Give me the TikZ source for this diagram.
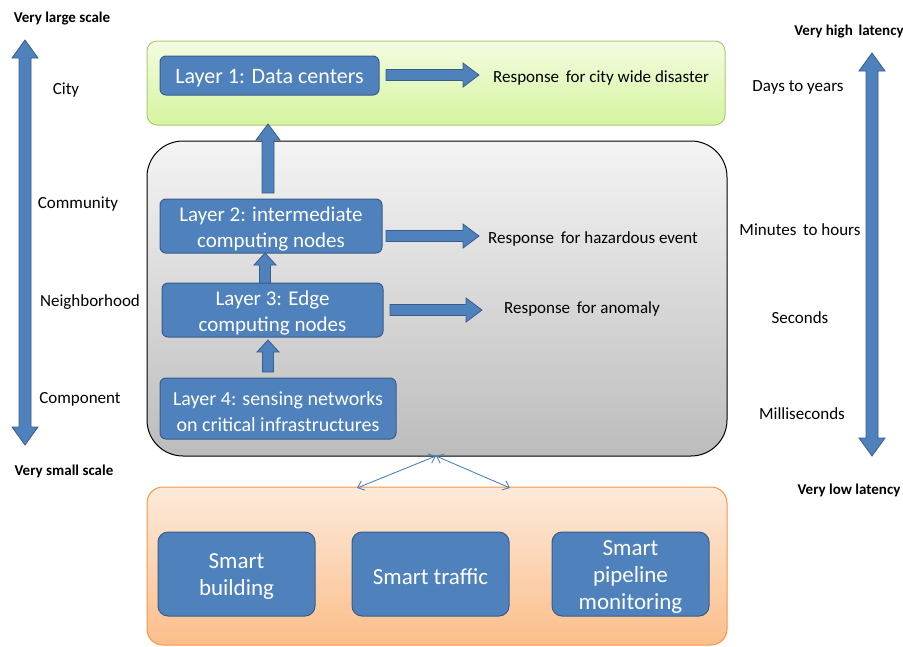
\documentclass[tikz,border=0pt]{standalone}
\usepackage{fontspec}
\setmainfont{Carlito}
\usetikzlibrary{calc,arrows.meta}
\definecolor{blu}{HTML}{4F81BD}
\definecolor{bdr}{HTML}{385D8A}
\definecolor{gtop}{HTML}{F4FCE0}
\definecolor{gbot}{HTML}{D6F4A0}
\definecolor{gbrd}{HTML}{A9CB74}
\definecolor{ytop}{HTML}{F4F4F4}
\definecolor{ybot}{HTML}{BCBCBC}
\definecolor{otop}{HTML}{FDEADB}
\definecolor{obot}{HTML}{FBBE8A}
\definecolor{obrd}{HTML}{F79646}
\tikzset{
  boxtext/.style={text=white, align=center, inner sep=0pt},
  layerbox/.style={draw=bdr, fill=blu, line width=1pt, rounded corners=6pt, inner sep=0pt},
  smartbox/.style={draw=bdr, fill=blu, line width=1pt, rounded corners=10pt, inner sep=0pt,
    minimum width=157pt, minimum height=84pt},
  lbl/.style={font=\fontsize{17}{19}\selectfont, inner sep=0pt},
  blbl/.style={font=\bfseries\fontsize{15}{17}\selectfont, inner sep=0pt},
  blk/.style={draw=bdr, fill=blu, line width=0.8pt, line join=miter},
  thin/.style={draw=blu, line width=0.9pt, {Straight Barb[length=6pt,width=10pt]}-{Straight Barb[length=6pt,width=10pt]}}
}
% horizontal block arrow: #1 start, #2 tip, #3 half shaft, #4 half head, #5 head length
\newcommand\HBlk[5]{\draw[blk] let \p1=(#1), \p2=(#2) in
  (\x1,\y1-#3) -- (\x2-#5,\y1-#3) -- (\x2-#5,\y1-#4) -- (\x2,\y1) -- (\x2-#5,\y1+#4)
  -- (\x2-#5,\y1+#3) -- (\x1,\y1+#3) -- cycle;}
% vertical block arrow upward: #1 bottom start, #2 tip
\newcommand\VBlk[5]{\draw[blk] let \p1=(#1), \p2=(#2) in
  (\x1-#3,\y1) -- (\x1-#3,\y2-#5) -- (\x1-#4,\y2-#5) -- (\x1,\y2) -- (\x1+#4,\y2-#5)
  -- (\x1+#3,\y2-#5) -- (\x1+#3,\y1) -- cycle;}
% double vertical block arrow: #1 top tip, #2 bottom tip
\newcommand\DBlk[5]{\draw[blk] let \p1=(#1), \p2=(#2) in
  (\x1,\y1) -- (\x1+#4,\y1-#5) -- (\x1+#3,\y1-#5) -- (\x1+#3,\y2+#5) -- (\x1+#4,\y2+#5)
  -- (\x1,\y2) -- (\x1-#4,\y2+#5) -- (\x1-#3,\y2+#5) -- (\x1-#3,\y1-#5) -- (\x1-#4,\y1-#5) -- cycle;}
\begin{document}
\begin{tikzpicture}[x=1pt,y=-1pt]
\useasboundingbox (0,0) rectangle (903,646);
% containers
\path[draw=gbrd, line width=1pt, top color=gtop, bottom color=gbot, rounded corners=10pt]
  (147,41) rectangle (725,125);
\path[draw=black, line width=1pt, top color=ytop, bottom color=ybot, rounded corners=36pt]
  (147,141) rectangle (727,456);
\path[draw=obrd, line width=1pt, top color=otop, bottom color=obot, rounded corners=16pt]
  (147,487) rectangle (727,645);
\coordinate (gbot) at (268,124);
\coordinate (ytopc) at (436,456);
\coordinate (oA) at (357,488);
\coordinate (oB) at (510,488);
% layers
\node[layerbox, minimum width=219pt, minimum height=39pt] (L1) at (269.5,75.5) {};
\node[layerbox, minimum width=222pt, minimum height=54pt] (L2) at (271,226) {};
\node[layerbox, minimum width=221pt, minimum height=54pt] (L3) at (272.5,310) {};
\node[layerbox, minimum width=236pt, minimum height=61pt] (L4) at (278,408.5) {};
\node[boxtext, font=\fontsize{22}{26}\selectfont] (L1t) at ([yshift=-3pt]L1.center) {Layer 1: Data centers};
\node[boxtext, font=\fontsize{21}{26}\selectfont] (L2t) at ([yshift=-3pt]L2.center) {Layer 2: intermediate\\computing nodes};
\node[boxtext, font=\fontsize{21}{26}\selectfont] (L3t) at ([yshift=-3pt]L3.center) {Layer 3: Edge\\computing nodes};
\node[boxtext, font=\fontsize{20}{26}\selectfont] (L4t) at ([yshift=-3pt]L4.center) {Layer 4: sensing networks\\on critical infrastructures};
% responses
\node[lbl, anchor=west] (R1) at (493,78) {Response\, for city wide disaster};
\node[lbl, anchor=west] (R2) at (488,239) {Response\, for hazardous event};
\node[lbl, anchor=west] (R3) at (504,309) {Response\, for anomaly};
\coordinate (a1s) at (386,75);
\coordinate (a1e) at (479,75);
\coordinate (a2s) at (386,236);
\coordinate (a2e) at (479,236);
\coordinate (a3s) at (390,310);
\coordinate (a3e) at (482,310);
\HBlk{a1s}{a1e}{5.5pt}{12pt}{16pt}
\HBlk{a2s}{a2e}{5.5pt}{12pt}{16pt}
\HBlk{a3s}{a3e}{5.5pt}{12pt}{16pt}
% vertical arrows
\coordinate (v1s) at (268,193);
\coordinate (v2s) at (265,283);
\coordinate (v2e) at (265,253);
\coordinate (v3s) at (268,372);
\coordinate (v3e) at (268,340);
\VBlk{v1s}{gbot}{6pt}{12pt}{16pt}
\VBlk{v2s}{v2e}{5.5pt}{11pt}{12pt}
\VBlk{v3s}{v3e}{5.5pt}{11pt}{12pt}
% smart boxes
\node[smartbox] (S1) at (236.5,574) {};
\node[smartbox] (S2) at (430.5,574) {};
\node[smartbox] (S3) at (630.5,574) {};
\node[boxtext, font=\fontsize{23}{27}\selectfont] (S1t) at ([yshift=-3pt]S1.center) {Smart\\building};
\node[boxtext, font=\fontsize{23}{27}\selectfont] (S2t) at ([yshift=-3pt]S2.center) {Smart traffic};
\node[boxtext, font=\fontsize{23}{27}\selectfont] (S3t) at ([yshift=-3pt]S3.center) {Smart\\pipeline\\monitoring};
% thin arrows
\draw[thin] (ytopc) -- (oA);
\draw[thin] (ytopc) -- (oB);
% side scales
\coordinate (lt) at (25,40);
\coordinate (lb) at (25,445);
\coordinate (rt) at (872,53);
\coordinate (rb) at (872,456);
\DBlk{lt}{lb}{6pt}{13pt}{18pt}
\DBlk{rt}{rb}{6pt}{13pt}{18pt}
\node[blbl] (vls) at (62,19) {Very large scale};
\node[lbl] (city) at (66,90) {City};
\node[lbl] (comm) at (78,204) {Community};
\node[lbl] (nb) at (90,302) {Neighborhood};
\node[lbl] (comp) at (80,399) {Component};
\node[blbl] (vss) at (64,471) {Very small scale};
\node[blbl] (vhl) at (849,32) {Very high\, latency};
\node[lbl] (dy) at (798,87) {Days to years};
\node[lbl] (mh) at (800,230) {Minutes\, to hours};
\node[lbl] (sec) at (800,318) {Seconds};
\node[lbl] (ms) at (802,414) {Milliseconds};
\node[blbl] (vll) at (849,490) {Very low latency};
\end{tikzpicture}
\end{document}
